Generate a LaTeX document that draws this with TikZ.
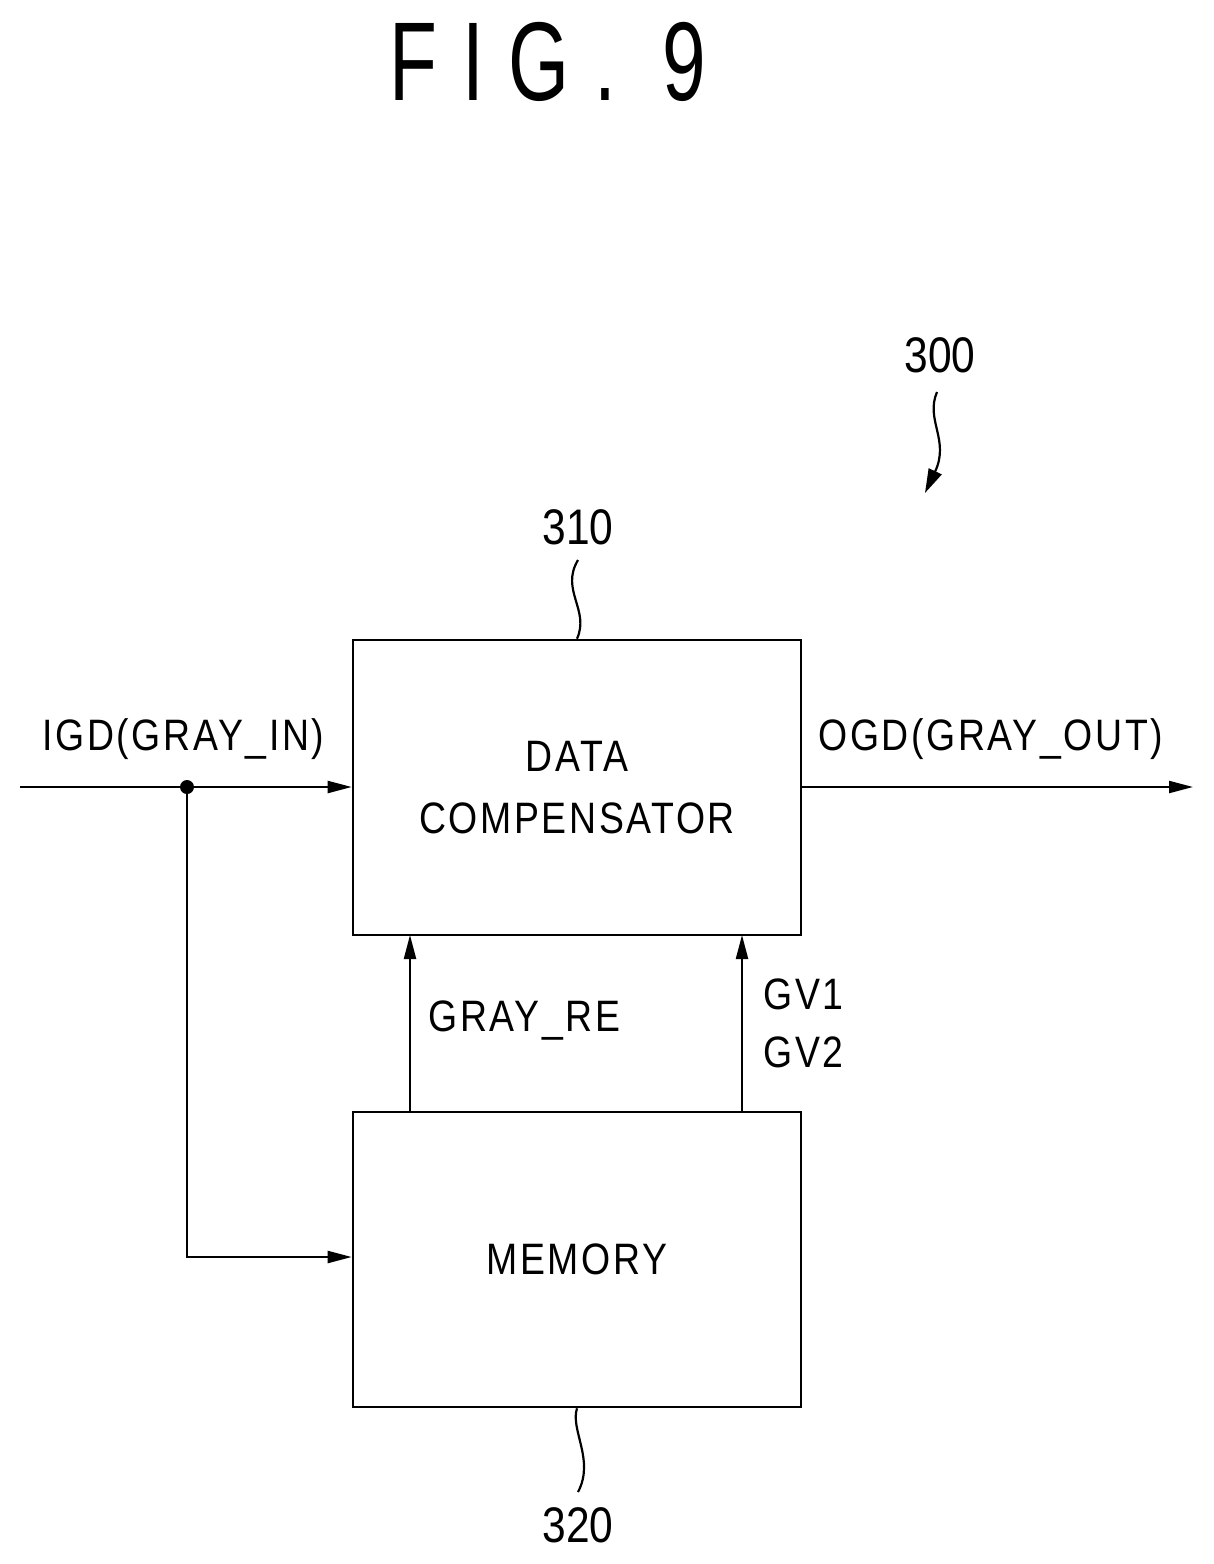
\documentclass[tikz,border=0pt]{standalone}
\usepackage{fontspec}
\setmainfont{Liberation Sans}[FakeStretch=0.85,LetterSpace=6]
\newfontfamily\figfont{Liberation Sans}[FakeStretch=0.7,LetterSpace=22]
\newfontfamily\numfont{Liberation Sans}[FakeStretch=0.85]
\usetikzlibrary{arrows.meta}
\begin{document}
\begin{tikzpicture}[x=0.5pt,y=-0.5pt,
  box/.style={draw,line width=1.3pt,minimum width=224pt,minimum height=147.5pt,inner sep=0pt,font=\fontsize{22}{27}\selectfont,align=center},
  lab/.style={font=\fontsize{22}{27}\selectfont,inner sep=0pt},
  num/.style={font=\numfont\fontsize{25}{28}\selectfont,inner sep=0pt},
  ln/.style={line width=1.1pt},
  arr/.style={ln,-{Triangle[length=12pt,width=6pt]}}]
\useasboundingbox (0,0) rectangle (1214,1564);
\node[font=\figfont\fontsize{56}{64}\selectfont,inner sep=0pt] (fig) at (548,62) {FIG. 9};
\node[box] (dc) at (577,787.5) {DATA\\[4pt]COMPENSATOR};
\node[box] (mem) at (577,1259.5) {MEMORY};
\coordinate (in) at (20,787);
\coordinate (dot) at (187,787);
\coordinate (out) at (1193,787);
\fill (dot) circle (7);
\draw[arr] (in) -- (dc.west |- in);
\draw[arr] (dot) |- (mem.west |- 0,1257);
\draw[arr] (dc.east |- out) -- (out);
\coordinate (a1) at (410,1112); \coordinate (b1) at (410,935);
\coordinate (a2) at (742,1112); \coordinate (b2) at (742,935);
\draw[arr] (a1) -- (b1);
\draw[arr] (a2) -- (b2);
\node[lab,anchor=south west] (igd) at (42,760) {IGD(GRAY\_IN)};
\node[lab,anchor=south west] (ogd) at (818,760) {OGD(GRAY\_OUT)};
\node[lab,anchor=west] (gre) at (428,1020) {GRAY\_RE};
\node[lab,anchor=west,align=left] (gv) at (763,1023) {GV1\\[2pt]GV2};
\node[num] (n300) at (940,355) {300};
\node[num] (n310) at (578,527) {310};
\node[num] (n320) at (578,1525) {320};
\coordinate (w1) at (937,392);
\coordinate (w2) at (925,493);
\draw[ln,-{Triangle[length=12pt,width=7pt]}] (w1) .. controls (925,420) and (950,440) .. (w2);
\coordinate (t1) at (578,560);
\draw[ln] (t1) .. controls (560,590) and (590,610) .. (dc.north);
\coordinate (t2) at (578,1492);
\draw[ln] (mem.south) .. controls (570,1430) and (595,1460) .. (t2);
\end{tikzpicture}
\end{document}
